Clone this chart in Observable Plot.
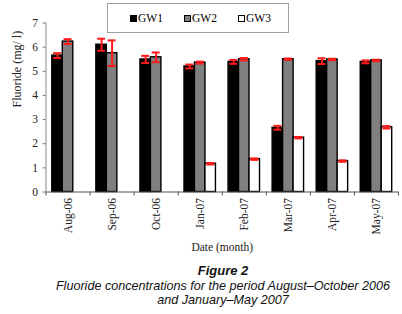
<!DOCTYPE html>
<html>
<head>
<meta charset="utf-8">
<script src="https://cdn.jsdelivr.net/npm/d3@7"></script>
<script src="https://cdn.jsdelivr.net/npm/@observablehq/plot@0.6"></script>
<style>
  html, body { margin: 0; padding: 0; background: #fff; }
  #wrap { position: relative; width: 402px; height: 314px; overflow: hidden; }
  #legend { position: absolute; left: 107px; top: 3px; width: 180px; height: 28px;
    border: 1px solid #a0a0a0; background: #fff; font-family: "Liberation Serif", serif;
    font-size: 11.5px; color: #000; }
  .item { position: absolute; top: 8px; line-height: 13px; white-space: nowrap; }
  .sw { display: inline-block; width: 5px; height: 5px; border: 1px solid #000; vertical-align: 0px; margin-right: 1px; }
  #cap { margin-left: 44px; width: 358px; text-align: center; font-family: "Liberation Sans", Arial, sans-serif; color: #111; }
  #fig { font-weight: bold; font-style: italic; font-size: 13px; line-height: 14px; margin-top: 4px; }
  .cl { font-style: italic; font-size: 12.6px; line-height: 14px; }
</style>
</head>
<body>
<div id="wrap">
  <div id="chart"></div>
  <div id="legend"></div>
  <div id="cap">
    <div id="fig">Figure 2</div>
    <div class="cl" style="margin-top:1px">Fluoride concentrations for the period August–October 2006</div>
    <div class="cl">and January–May 2007</div>
  </div>
</div>
<script>
const months = ["Aug-06","Sep-06","Oct-06","Jan-07","Feb-07","Mar-07","Apr-07","May-07"];
const series = ["GW1","GW2","GW3"];
const gw1    = [5.65, 6.10, 5.49, 5.20, 5.39, 2.66, 5.42, 5.39];
const gw1Err = [0.10, 0.25, 0.15, 0.08, 0.08, 0.08, 0.12, 0.06];
const gw2    = [6.23, 5.75, 5.58, 5.36, 5.50, 5.50, 5.49, 5.45];
const gw2Err = [0.10, 0.53, 0.20, 0.04, 0.05, 0.03, 0.03, 0.03];
const gw3    = [null, null, null, 1.17, 1.36, 2.25, 1.28, 2.68];
const gw3Err = [null, null, null, 0.03, 0.03, 0.03, 0.03, 0.05];
const yTicks = [0, 1, 2, 3, 4, 5, 6, 7];

const fills = {GW1: "#000000", GW2: "#808080", GW3: "#ffffff"};
const values = [gw1, gw2, gw3];
const errs = [gw1Err, gw2Err, gw3Err];

const rows = [];
months.forEach((m, i) => series.forEach((s, k) => {
  const v = values[k][i];
  if (v != null) rows.push({i, month: m, series: s, k, value: v, err: errs[k][i]});
}));

// bar geometry inside each month slot (fraction of slot)
const bw = 0.238, pad = (1 - 3 * bw) / 2;
const x1 = d => d.i + pad + d.k * bw;
const x2 = d => d.i + pad + (d.k + 1) * bw;
const xc = d => d.i + pad + (d.k + 0.5) * bw;

const serif = "Liberation Serif";

const plot = Plot.plot({
  width: 402,
  height: 260,
  marginLeft: 45.5,
  marginRight: 4,
  marginTop: 22.5,
  marginBottom: 68.5,
  x: {domain: [0, months.length], axis: null},
  y: {domain: [0, 7], axis: null},
  style: {fontFamily: serif, background: "#fff"},
  marks: [
    Plot.ruleX([0], {stroke: "#9a9a9a", strokeWidth: 1.2}),
    Plot.rectY(rows, {x1, x2, y1: 0, y2: "value", fill: d => fills[d.series], stroke: "#000", strokeWidth: 1.4}),
    Plot.ruleX(rows, {x: xc, y1: d => d.value - d.err, y2: d => d.value + d.err, stroke: "#ff1a1a", strokeWidth: 2}),
    Plot.ruleY(rows, {y: d => d.value + d.err, x1: d => xc(d) - 0.09, x2: d => xc(d) + 0.09, stroke: "#ff1a1a", strokeWidth: 2}),
    Plot.ruleY(rows, {y: d => d.value - d.err, x1: d => xc(d) - 0.09, x2: d => xc(d) + 0.09, stroke: "#ff1a1a", strokeWidth: 2}),
    Plot.ruleY([0], {stroke: "#555", strokeWidth: 1.2}),
    Plot.axisY({ticks: yTicks, tickSize: 3, tickPadding: 5, tickFormat: d3.format("d"), fontSize: 11.5, stroke: "#777", fill: "#222", label: null}),
    Plot.axisX({ticks: d3.range(0, months.length + 1), tickSize: 4, tickFormat: () => "", stroke: "#555", label: null}),
    Plot.axisX({ticks: months.map((m, i) => i + 0.5), tickSize: 0, tickPadding: 6, tickRotate: -90,
      tickFormat: d => months[Math.floor(d)], fontSize: 11.5, fill: "#222", label: null}),
    Plot.text(["Fluoride (mg/ l)"], {frameAnchor: "left", dx: -29, rotate: -90, fontSize: 12, fill: "#222", fontFamily: serif}),
    Plot.text(["Date (month)"], {frameAnchor: "bottom", dy: 58.5, fontSize: 11.5, fill: "#222", fontFamily: serif})
  ]
});
document.getElementById("chart").appendChild(plot);

const legend = document.getElementById("legend");
const lx = [22, 76, 130];
series.forEach((s, k) => {
  const it = document.createElement("div");
  it.className = "item";
  it.style.left = lx[k] + "px";
  it.innerHTML = `<span class="sw" style="background:${fills[s]}"></span>${s}`;
  legend.appendChild(it);
});
</script>
</body>
</html>
